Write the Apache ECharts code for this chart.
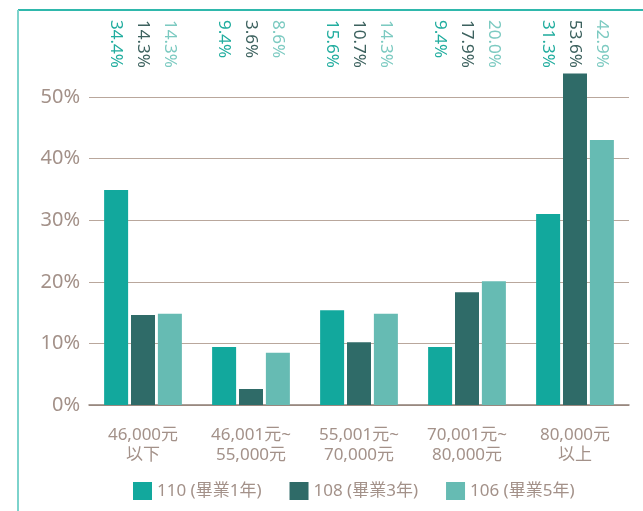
<!DOCTYPE html>
<html>
<head>
<meta charset="utf-8">
<script src="https://cdn.jsdelivr.net/npm/echarts@6/dist/echarts.min.js"></script>
<style>
  html, body { margin: 0; padding: 0; background: #fff; }
  #chart { width: 643px; height: 511px; }
</style>
</head>
<body>
<div id="chart"></div>
<script>
var categories = ['46,000元\n以下', '46,001元~\n55,000元', '55,001元~\n70,000元', '70,001元~\n80,000元', '80,000元\n以上'];
var seriesNames = ['110 (畢業1年)', '108 (畢業3年)', '106 (畢業5年)'];
// bar heights as drawn in the picture
var bars110 = [34.9, 9.4, 15.4, 9.4, 31.0];
var bars108 = [14.6, 2.6, 10.2, 18.3, 53.8];
var bars106 = [14.8, 8.5, 14.8, 20.1, 43.0];
// percentages printed along the top
var labels110 = ['34.4%', '9.4%', '15.6%', '9.4%', '31.3%'];
var labels108 = ['14.3%', '3.6%', '10.7%', '17.9%', '53.6%'];
var labels106 = ['14.3%', '8.6%', '14.3%', '20.0%', '42.9%'];
var yTicks = [0, 10, 20, 30, 40, 50];

var barColors = ['#12a89d', '#2f6b68', '#66bbb3'];
var labelColors = ['#22ad9f', '#3d625f', '#7ccac1'];
var allBars = [bars110, bars108, bars106];
var allLabels = [labels110, labels108, labels106];

var chart = echarts.init(document.getElementById('chart'));

var series = [];
allBars.forEach(function (d, i) {
    series.push({
        name: seriesNames[i],
        type: 'bar',
        xAxisIndex: 0,
        yAxisIndex: 0,
        data: d,
        barWidth: 24,
        barGap: '12%',
        clip: false,
        itemStyle: { color: barColors[i] }
    });
});
// value labels along the top, in their own grid
allLabels.forEach(function (txt, i) {
    series.push({
        type: 'bar',
        xAxisIndex: 1,
        yAxisIndex: 1,
        data: txt.map(function () { return 1; }),
        barWidth: 24,
        barGap: '12%',
        silent: true,
        itemStyle: { color: 'transparent' },
        label: {
            show: true,
            position: 'insideTop',
            distance: 0,
            rotate: -90,
            align: 'left',
            verticalAlign: 'middle',
            fontSize: 17,
            fontFamily: 'Noto Sans',
            color: labelColors[i],
            formatter: function (p) { return txt[p.dataIndex]; }
        }
    });
});

var option = {
    animation: false,
    textStyle: { fontFamily: 'Noto Sans, Noto Sans CJK TC' },
    grid: [
        { left: 89, right: 14, top: 97, bottom: 106 },
        { left: 89, right: 14, top: 20, height: 50 }
    ],
    legend: {
        left: 128,
        top: 477,
        itemWidth: 19,
        itemHeight: 18,
        itemGap: 28,
        icon: 'rect',
        data: seriesNames,
        textStyle: { color: '#a39189', fontSize: 17, fontFamily: 'Noto Sans, Noto Sans CJK TC' }
    },
    xAxis: [
        {
            type: 'category',
            gridIndex: 0,
            data: categories,
            axisLine: { lineStyle: { color: '#8f7f75', width: 1.5 } },
            axisTick: { show: false },
            axisLabel: {
                color: '#a39189',
                fontSize: 17,
                lineHeight: 20,
                margin: 20,
                interval: 0,
                fontFamily: 'Noto Sans, Noto Sans CJK TC'
            }
        },
        {
            type: 'category',
            gridIndex: 1,
            data: categories,
            show: false
        }
    ],
    yAxis: [
        {
            type: 'value',
            gridIndex: 0,
            min: yTicks[0],
            max: yTicks[yTicks.length - 1],
            interval: 10,
            axisLine: { show: false },
            axisTick: { show: false },
            splitLine: { lineStyle: { color: '#b9a79c', width: 1 } },
            axisLabel: {
                color: '#a39189',
                fontSize: 20,
                margin: 9,
                fontFamily: 'Noto Sans',
                formatter: '{value}%'
            }
        },
        {
            type: 'value',
            gridIndex: 1,
            min: 0,
            max: 1,
            show: false
        }
    ],
    series: series,
    graphic: [
        {
            type: 'line',
            shape: { x1: 18, y1: 10, x2: 643, y2: 10 },
            style: { stroke: '#2fb8ac', lineWidth: 2 }
        },
        {
            type: 'line',
            shape: { x1: 18, y1: 10, x2: 18, y2: 511 },
            style: { stroke: '#7dd3cc', lineWidth: 2 }
        }
    ]
};

chart.setOption(option);
</script>
</body>
</html>
